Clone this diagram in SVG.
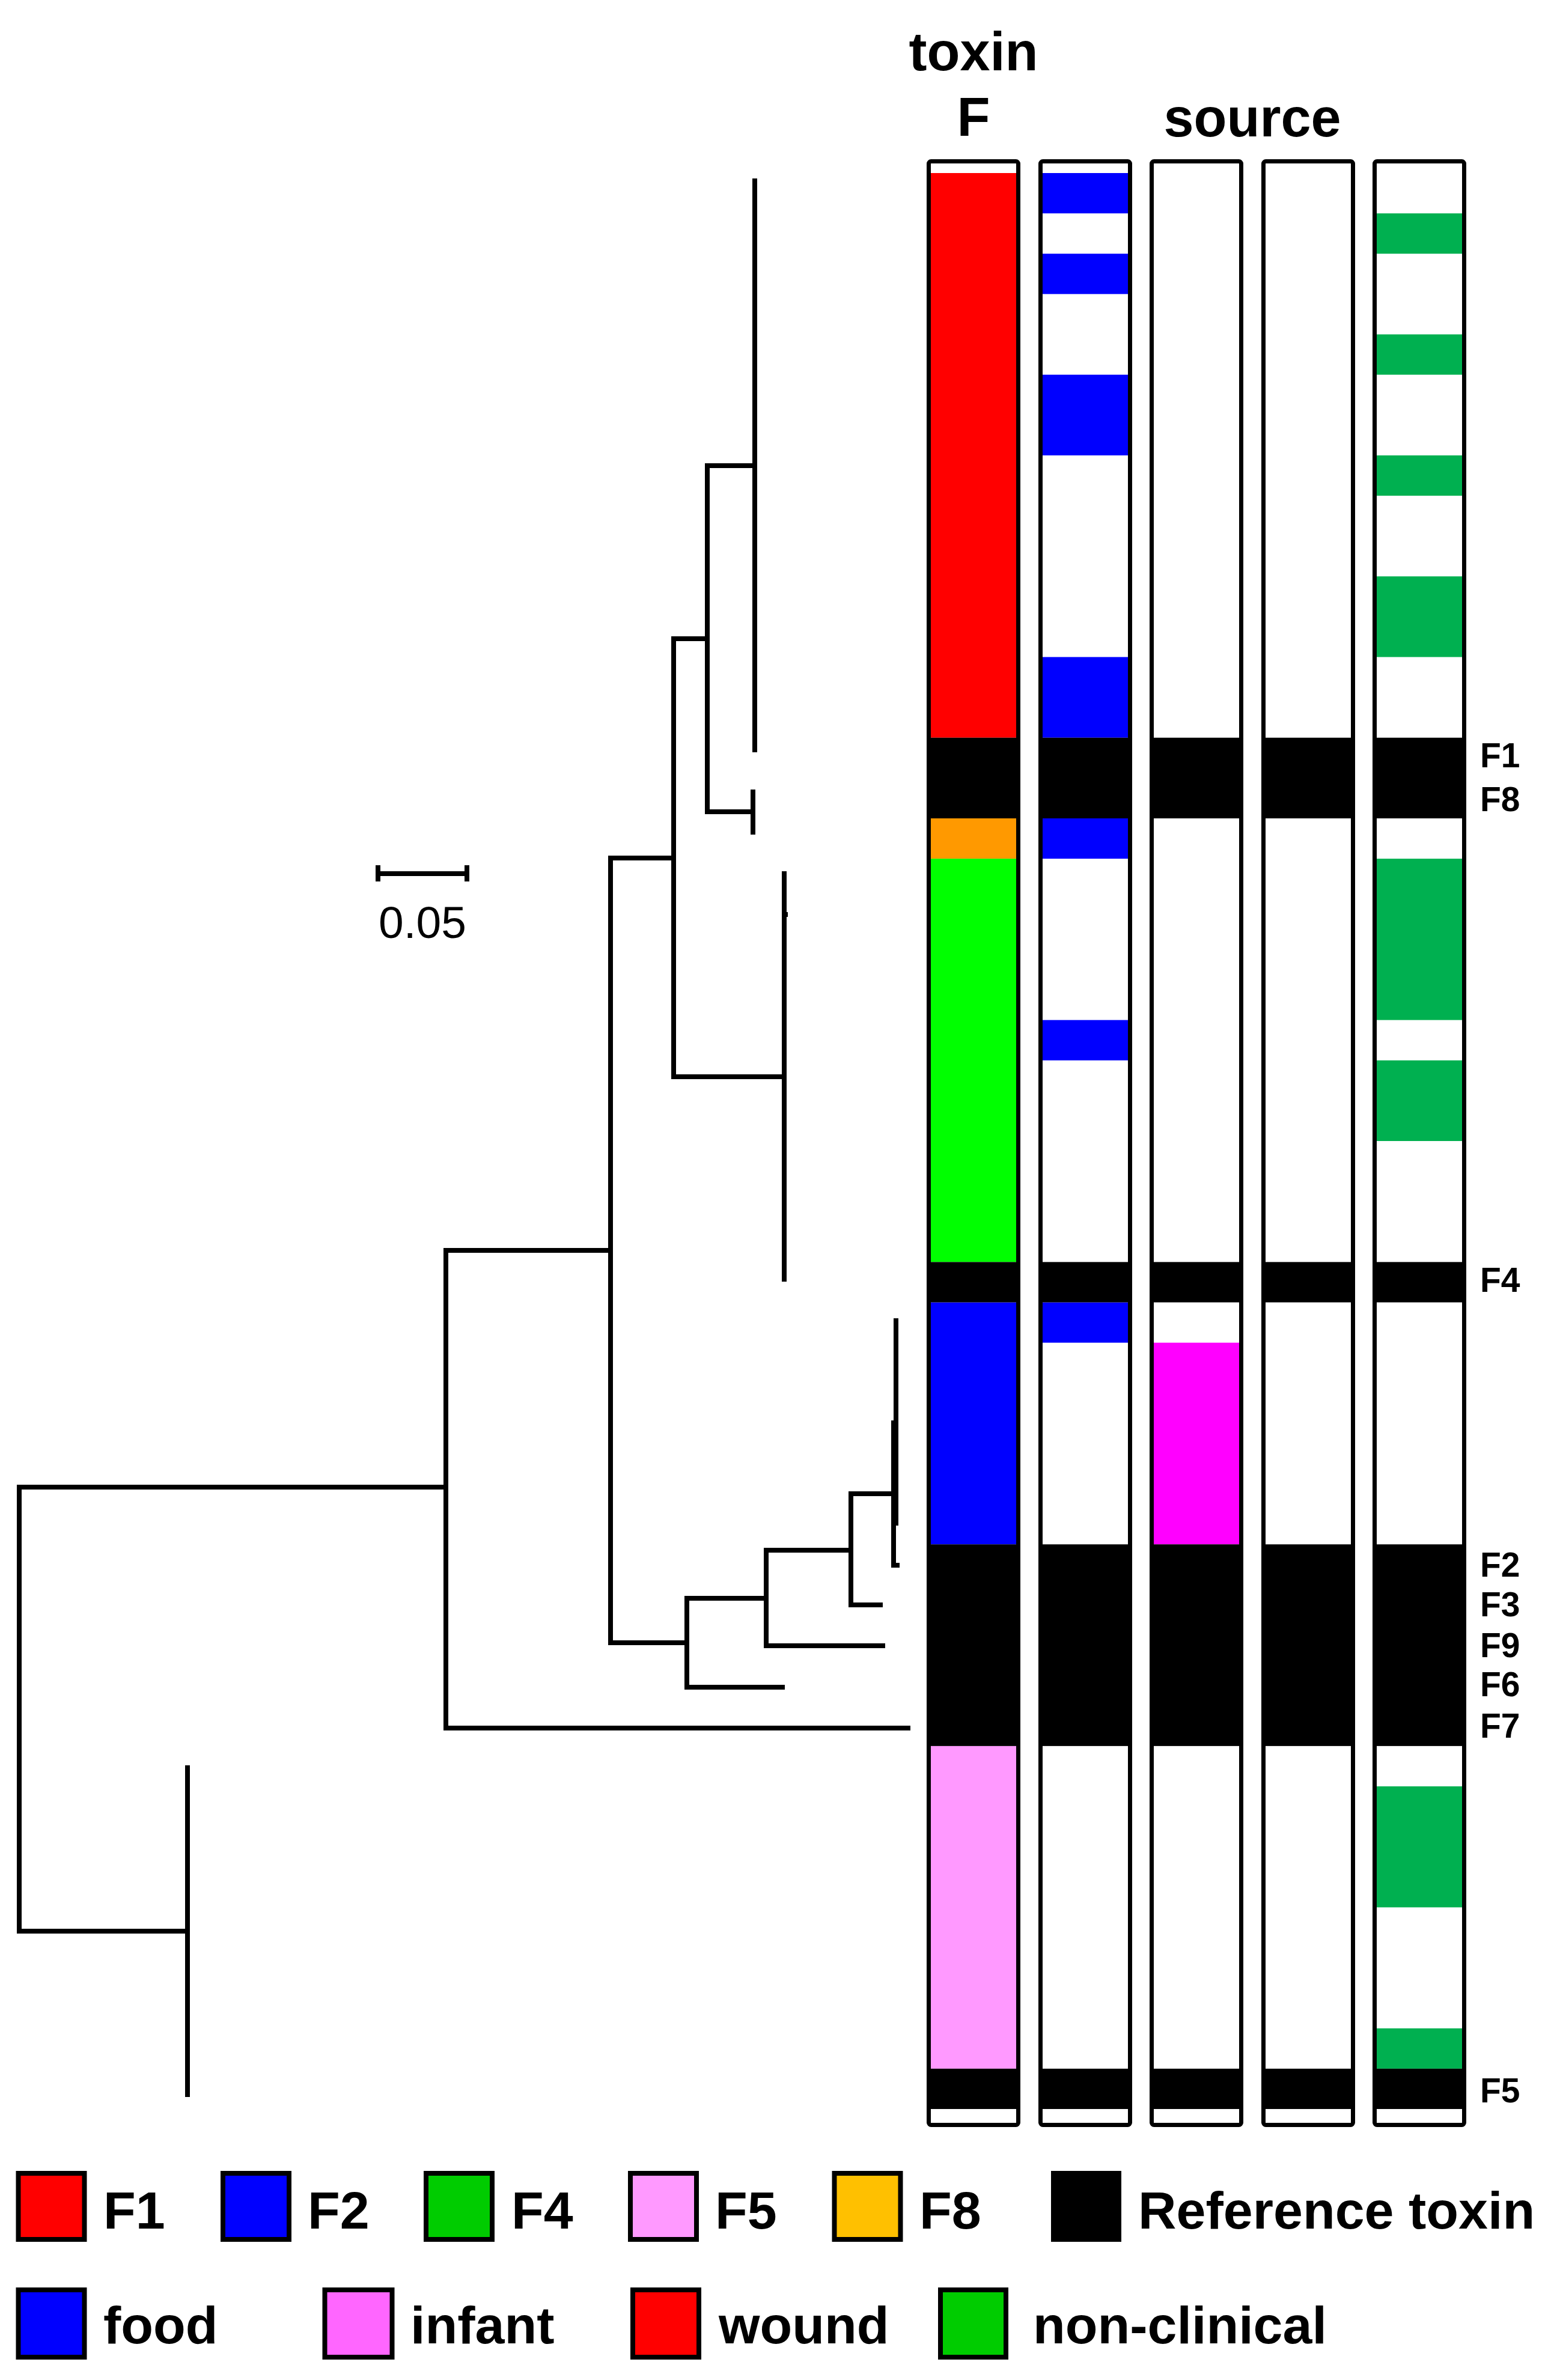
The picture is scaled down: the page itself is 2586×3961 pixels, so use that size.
<svg xmlns="http://www.w3.org/2000/svg" width="2586" height="3961" viewBox="0 0 2586 3961">
<style>
.t{font-family:"Liberation Sans",Arial,sans-serif;font-weight:bold;fill:#000}
.br{fill:none;stroke:#000;stroke-width:8;stroke-linejoin:miter;stroke-linecap:butt}
.frame{fill:none;stroke:#000;stroke-width:7}
.blk{fill:#000}.red{fill:#ff0000}.blu{fill:#0000ff}.org{fill:#ff9900}.lim{fill:#00ff00}
.pnk{fill:#ff99ff}.mag{fill:#ff00ff}.grn{fill:#00b050}
.lg{stroke:#000;stroke-width:8}
</style>
<defs>
<g id="refrows">
<rect class="blk" x="0" y="1227.75" width="156" height="134.25"/>
<rect class="blk" x="0" y="2100.375" width="156" height="67.125"/>
<rect class="blk" x="0" y="2570.25" width="156" height="335.625"/>
<rect class="blk" x="0" y="3442.875" width="156" height="67.125"/>
</g>
<rect id="frame" class="frame" x="3.5" y="268.5" width="149" height="3268" rx="4"/>
</defs>
<rect width="2586" height="3961" fill="#fff"/>

<g id="headers">
<text class="t" x="1620" y="117" font-size="90" text-anchor="middle">toxin</text>
<text class="t" x="1620" y="226" font-size="90" text-anchor="middle">F</text>
<text class="t" x="2084" y="227" font-size="90" text-anchor="middle">source</text>
</g>

<g id="tree">
<path class="br" d="M742 2475 H32 V3214 H312"/>
<path class="br" d="M312 2938 V3490"/>
<path class="br" d="M1016 2081 H742 V2876 H1515"/>
<path class="br" d="M1121 1428 H1016 V2734 H1143"/>
<path class="br" d="M1275 2660 H1143 V2808 H1306"/>
<path class="br" d="M1416 2580 H1275 V2739 H1473"/>
<path class="br" d="M1487 2486 H1416 V2671 H1469"/>
<path class="br" d="M1487 2364 V2605 H1497"/>
<path class="br" d="M1487 2366 H1491"/>
<path class="br" d="M1491 2194 V2539"/>
<path class="br" d="M1177 1063 H1121 V1792 H1305"/>
<path class="br" d="M1256 775 H1177 V1351 H1253"/>
<path class="br" d="M1256 297 V1252"/>
<path class="br" d="M1253 1314 V1389"/>
<path class="br" d="M1305 1450 V2133"/>
<path class="br" d="M1305 1522 H1311"/>
</g>

<g id="scale-bar">
<path class="br" d="M625 1454 H781 M629 1440 V1467 M777 1440 V1467"/>
<text x="703" y="1561" font-size="75" text-anchor="middle" font-family="Liberation Sans, Arial, sans-serif">0.05</text>
</g>

<g id="col-toxin" transform="translate(1542,0)">
<rect class="red" x="0" y="288" width="156" height="939.75"/>
<rect class="org" x="0" y="1362" width="156" height="67.125"/>
<rect class="lim" x="0" y="1429.125" width="156" height="671.25"/>
<rect class="blu" x="0" y="2167.5" width="156" height="402.75"/>
<rect class="pnk" x="0" y="2905.875" width="156" height="537"/>
<use href="#refrows"/>
<use href="#frame"/>
</g>

<g id="col-food" transform="translate(1728,0)">
<rect class="blu" x="0" y="288" width="156" height="67.125"/>
<rect class="blu" x="0" y="422.25" width="156" height="67.125"/>
<rect class="blu" x="0" y="623.625" width="156" height="134.25"/>
<rect class="blu" x="0" y="1093.5" width="156" height="134.25"/>
<rect class="blu" x="0" y="1362" width="156" height="67.125"/>
<rect class="blu" x="0" y="1697.625" width="156" height="67.125"/>
<rect class="blu" x="0" y="2167.5" width="156" height="67.125"/>
<use href="#refrows"/>
<use href="#frame"/>
</g>

<g id="col-infant" transform="translate(1913,0)">
<rect class="mag" x="0" y="2234.625" width="156" height="335.625"/>
<use href="#refrows"/>
<use href="#frame"/>
</g>

<g id="col-wound" transform="translate(2099,0)">
<use href="#refrows"/>
<use href="#frame"/>
</g>

<g id="col-nonclinical" transform="translate(2284,0)">
<rect class="grn" x="0" y="355.125" width="156" height="67.125"/>
<rect class="grn" x="0" y="556.5" width="156" height="67.125"/>
<rect class="grn" x="0" y="757.875" width="156" height="67.125"/>
<rect class="grn" x="0" y="959.25" width="156" height="134.25"/>
<rect class="grn" x="0" y="1429.125" width="156" height="268.5"/>
<rect class="grn" x="0" y="1764.75" width="156" height="134.25"/>
<rect class="grn" x="0" y="2973" width="156" height="201.375"/>
<rect class="grn" x="0" y="3375.75" width="156" height="67.125"/>
<use href="#refrows"/>
<use href="#frame"/>
</g>

<g id="ref-labels" font-size="57">
<text class="t" x="2463" y="1277">F1</text>
<text class="t" x="2463" y="1350">F8</text>
<text class="t" x="2463" y="2150">F4</text>
<text class="t" x="2463" y="2624">F2</text>
<text class="t" x="2463" y="2690">F3</text>
<text class="t" x="2463" y="2758">F9</text>
<text class="t" x="2463" y="2823">F6</text>
<text class="t" x="2463" y="2892">F7</text>
<text class="t" x="2463" y="3499">F5</text>
</g>

<g id="legend-toxin" font-size="88">
<g id="leg-F1"><rect class="lg" x="30.5" y="3617" width="110" height="110" fill="#ff0000"/><text class="t" x="172" y="3709">F1</text></g>
<g id="leg-F2"><rect class="lg" x="371" y="3617" width="110" height="110" fill="#0000ff"/><text class="t" x="512" y="3709">F2</text></g>
<g id="leg-F4"><rect class="lg" x="709" y="3617" width="110" height="110" fill="#00cc00"/><text class="t" x="851" y="3709">F4</text></g>
<g id="leg-F5"><rect class="lg" x="1049" y="3617" width="110" height="110" fill="#ff99ff"/><text class="t" x="1190" y="3709">F5</text></g>
<g id="leg-F8"><rect class="lg" x="1388.5" y="3617" width="110" height="110" fill="#ffc000"/><text class="t" x="1530" y="3709">F8</text></g>
<g id="leg-ref"><rect x="1749" y="3613" width="117" height="118" fill="#000"/><text class="t" x="1894" y="3709">Reference toxin</text></g>
</g>

<g id="legend-source" font-size="88">
<g id="leg-food"><rect class="lg" x="30.5" y="3811" width="110" height="112" fill="#0000ff"/><text class="t" x="172" y="3900">food</text></g>
<g id="leg-infant"><rect class="lg" x="540.5" y="3811" width="112" height="112" fill="#ff66ff"/><text class="t" x="683" y="3900">infant</text></g>
<g id="leg-wound"><rect class="lg" x="1053" y="3811" width="110" height="112" fill="#ff0000"/><text class="t" x="1196" y="3900">wound</text></g>
<g id="leg-nonclinical"><rect class="lg" x="1565" y="3811" width="109" height="112" fill="#00cc00"/><text class="t" x="1719" y="3900">non-clinical</text></g>
</g>
</svg>
